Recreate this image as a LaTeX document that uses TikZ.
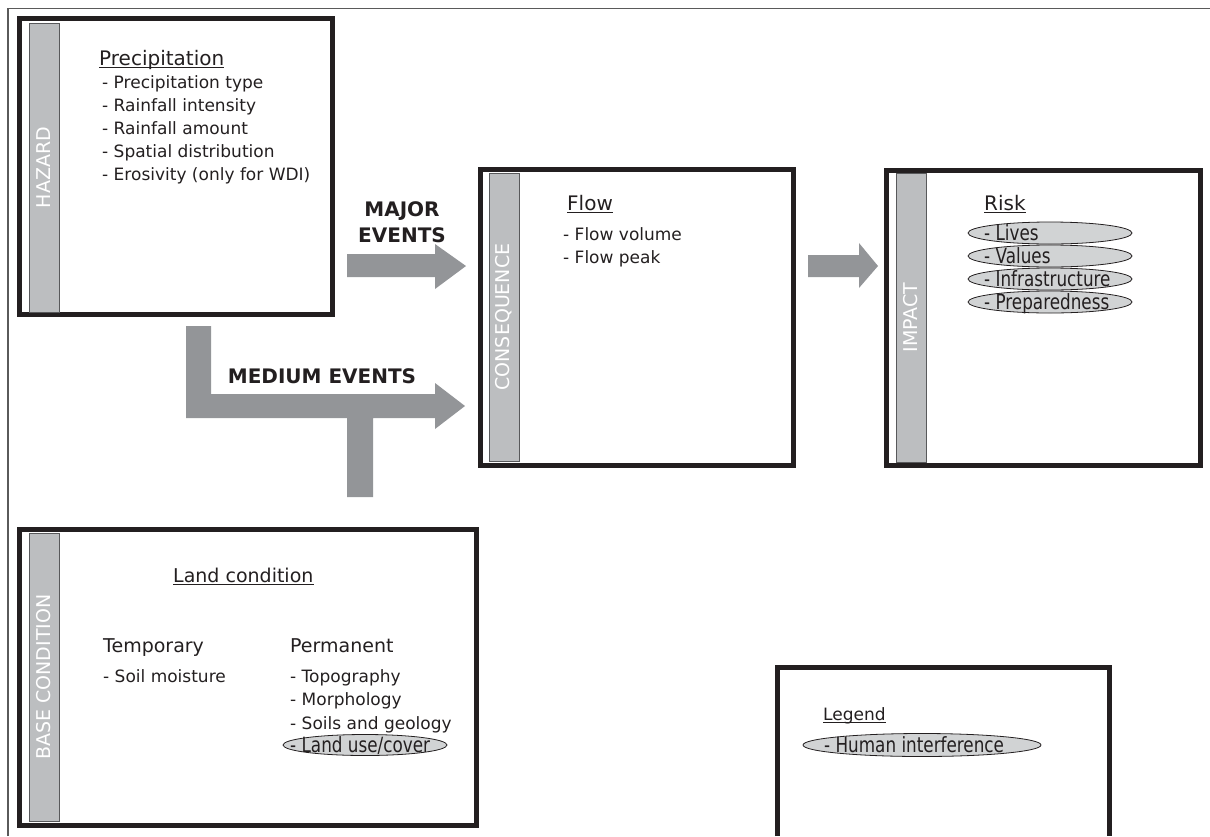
\documentclass[tikz,border=0pt]{standalone}
\usepackage{fontspec}
\setmainfont{DejaVu Sans}
\usetikzlibrary{shapes.geometric}
\definecolor{ink}{HTML}{231F20}
\definecolor{barfill}{HTML}{BCBEC0}
\definecolor{baredge}{HTML}{58595B}
\definecolor{arrowfill}{HTML}{939598}
\definecolor{ovalfill}{HTML}{D1D3D4}
\definecolor{framegray}{HTML}{5A5A5A}

\begin{document}
\begin{tikzpicture}[x=1pt,y=-1pt,
  panel/.style={draw=ink, line width=5pt, rectangle, inner sep=0pt},
  sidebar/.style={draw=baredge, line width=1pt, fill=barfill, rotate=90,
    inner sep=0pt, minimum height=30pt, text=white,
    font=\fontsize{19}{19}\selectfont},
  title/.style={anchor=base west, inner sep=0pt, text=ink,
    font=\fontsize{20}{24}\selectfont},
  subtitle/.style={anchor=base west, inner sep=0pt, text=ink,
    font=\fontsize{19}{23}\selectfont},
  item/.style={anchor=base west, inner sep=0pt, text=ink,
    font=\fontsize{17}{20}\selectfont},
  oval/.style={ellipse, draw=ink, line width=0.8pt, fill=ovalfill, inner sep=0pt},
  ovaltext/.style={anchor=base west, inner sep=0pt, text=ink,
    font=\fontsize{21}{24}\selectfont},
  blockarrow/.style={fill=arrowfill, draw=none},
  eventlabel/.style={anchor=base, inner sep=0pt, text=ink,
    font=\fontsize{20}{24}\selectfont\bfseries},
  uline/.style={draw=ink, line width=0.9pt}
]
\useasboundingbox (0,0) rectangle (1210,836);

% outer frame (top and left edges only)
\coordinate (frameBL) at (8,836);
\coordinate (frameTL) at (8,8.5);
\coordinate (frameTR) at (1210,8.5);
\draw[framegray, line width=1.5pt] (frameBL) -- (frameTL) -- (frameTR);

% ---------------- block arrows ----------------
% major events: hazard -> consequence
\fill[blockarrow] (347,254) -- (435,254) -- (435,244) -- (466,266)
  -- (435,289) -- (435,277) -- (347,277) -- cycle;
% consequence -> impact
\fill[blockarrow] (808,255) -- (859,255) -- (859,243) -- (878,266)
  -- (859,288) -- (859,277) -- (808,277) -- cycle;
% medium events: hazard + base condition -> consequence
\fill[blockarrow] (186,326) -- (211,326) -- (211,394) -- (435,394)
  -- (435,383) -- (465,406) -- (435,429) -- (435,418) -- (373,418)
  -- (373,497) -- (347,497) -- (347,418) -- (186,418) -- cycle;

\node[eventlabel] (major1) at (402,216) {MAJOR};
\node[eventlabel] (major2) at (402,242.5) {EVENTS};
\node[eventlabel] (medium) at (322,383) {MEDIUM EVENTS};

% ---------------- panels ----------------
\node[panel, minimum width=313pt, minimum height=296pt] (hazard) at (176,166.5) {};
\node[panel, minimum width=313pt, minimum height=296pt] (cons) at (637,317.5) {};
\node[panel, minimum width=314pt, minimum height=295pt] (impact) at (1043.5,318) {};
\node[panel, minimum width=457pt, minimum height=296pt] (base) at (248,677.5) {};

% legend panel (continues below the page edge)
\coordinate (lgBL) at (777.5,836);
\coordinate (lgTL) at (777.5,667.5);
\coordinate (lgTR) at (1109.5,667.5);
\coordinate (lgBR) at (1109.5,836);
\draw[ink, line width=5pt] (lgBL) -- (lgTL) -- (lgTR) -- (lgBR);

% side bars with vertical captions
\node[sidebar, minimum width=289pt] (hazbar) at (44,167.5) {HAZARD};
\node[sidebar, minimum width=288pt] (consbar) at (504,317) {CONSEQUENCE};
\node[sidebar, minimum width=289pt] (impbar) at (911,317.5) {IMPACT};
\node[sidebar, minimum width=288pt] (basebar) at (44,677) {BASE CONDITION};

% ---------------- hazard ----------------
\node[title] (hzt) at (99,65) {Precipitation};
\draw[uline] ([yshift=-2.5pt]hzt.base west) -- ([yshift=-2.5pt]hzt.base east);
\foreach \t [count=\i] in {Precipitation type, Rainfall intensity,
    Rainfall amount, Spatial distribution, Erosivity (only for WDI)}
  \node[item] (hz\i) at (102,65+23*\i) {- \t};

% ---------------- consequence ----------------
\node[title] (cot) at (567,210.5) {Flow};
\draw[uline] ([yshift=-2pt]cot.base west) -- ([yshift=-2pt]cot.base east);
\node[item] (co1) at (563,240) {- Flow volume};
\node[item] (co2) at (563,263) {- Flow peak};

% ---------------- impact ----------------
\node[title] (imt) at (984,210) {Risk};
\draw[uline] ([yshift=-2pt]imt.base west) -- ([yshift=-2pt]imt.base east);
\foreach \t [count=\i] in {Lives, Values, Infrastructure, Preparedness}{
  \node[oval, minimum width=164pt, minimum height=22pt] (imo\i) at (1050,210+23*\i) {};
  \node[ovaltext] (im\i) at (984,217+23*\i) {\scalebox{0.8}[1]{- \t}};
}

% ---------------- base condition ----------------
\node[subtitle] (bat) at (173,582) {Land condition};
\draw[uline] ([yshift=-2.5pt]bat.base west) -- ([yshift=-2.5pt]bat.base east);
\node[subtitle] (tmp) at (103,652) {Temporary};
\node[subtitle] (perm) at (290,652) {Permanent};
\node[item] (tmp1) at (103,682) {- Soil moisture};
\node[item] (perm1) at (290,682) {- Topography};
\node[item] (perm2) at (290,705.5) {- Morphology};
\node[item] (perm3) at (290,729) {- Soils and geology};
\node[oval, minimum width=164pt, minimum height=21pt] (landoval) at (365,745) {};
\node[ovaltext] (perm4) at (290,752) {\scalebox{0.8}[1]{- Land use/cover}};

% ---------------- legend ----------------
\node[item] (lgt) at (823,720.5) {Legend};
\draw[uline] ([yshift=-2pt]lgt.base west) -- ([yshift=-2pt]lgt.base east);
\node[oval, minimum width=238pt, minimum height=23pt] (lgoval) at (922,745) {};
\node[ovaltext] (lg1) at (824,752.5) {\scalebox{0.8}[1]{- Human interference}};

\end{tikzpicture}
\end{document}
